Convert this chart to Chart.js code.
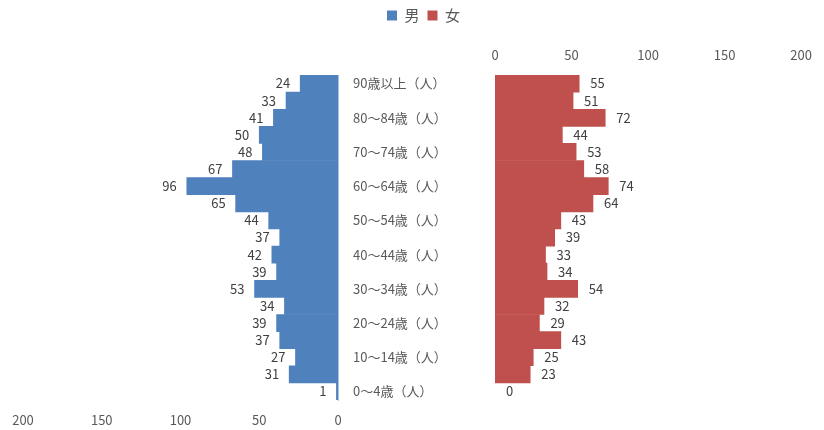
<!DOCTYPE html>
<html>
<head>
<meta charset="utf-8">
<script src="https://cdn.jsdelivr.net/npm/chart.js@4/dist/chart.umd.min.js"></script>
<style>
  html, body { margin: 0; padding: 0; background: #fff; }
  #wrap { position: relative; width: 824px; height: 430px; }
  #maleChart { position: absolute; left: 0; top: 0; }
  #femaleChart { position: absolute; left: 460px; top: 0; }
</style>
</head>
<body>
<div id="wrap">
  <canvas id="maleChart" width="824" height="430"></canvas>
  <canvas id="femaleChart" width="364" height="430"></canvas>
</div>
<script>
const ageGroups = [
  '90歳以上（人）', '85～89歳（人）', '80～84歳（人）', '75～79歳（人）',
  '70～74歳（人）', '65～69歳（人）', '60～64歳（人）', '55～59歳（人）',
  '50～54歳（人）', '45～49歳（人）', '40～44歳（人）', '35～39歳（人）',
  '30～34歳（人）', '25～29歳（人）', '20～24歳（人）', '15～19歳（人）',
  '10～14歳（人）', '5～9歳（人）', '0～4歳（人）'
];
const maleCounts = [24, 33, 41, 50, 48, 67, 96, 65, 44, 37, 42, 39, 53, 34, 39, 37, 27, 31, 1];
const femaleCounts = [55, 51, 72, 44, 53, 58, 74, 64, 43, 39, 33, 34, 54, 32, 29, 43, 25, 23, 0];
const seriesNames = ['男', '女'];
const axisTicks = [0, 50, 100, 150, 200];

const FONT = "'Noto Sans CJK JP', 'Noto Sans', sans-serif";
const BLUE = '#4f81bd';
const RED = '#c0504d';

// value labels next to the end of each bar
const valueLabels = {
  id: 'valueLabels',
  afterDatasetsDraw(chart, args, opts) {
    const ctx = chart.ctx;
    const meta = chart.getDatasetMeta(0);
    const values = chart.data.datasets[0].data;
    ctx.save();
    ctx.font = '13px ' + FONT;
    ctx.fillStyle = '#404040';
    ctx.textBaseline = 'middle';
    ctx.textAlign = opts.side === 'left' ? 'right' : 'left';
    meta.data.forEach((bar, i) => {
      const x = opts.side === 'left' ? bar.x - 10 : bar.x + 11;
      ctx.fillText(String(values[i]), x, bar.y);
    });
    ctx.restore();
  }
};

// leave room under the legend so both plots line up
const legendSpace = {
  id: 'legendSpace',
  beforeInit(chart) {
    const fit = chart.legend.fit;
    chart.legend.fit = function () {
      fit.call(this);
      this.height = 75;
    };
  }
};

// zero-length bars should not show a sliver
const inflate = c => (c.raw === 0 ? 0 : 'auto');

new Chart(document.getElementById('maleChart'), {
  type: 'bar',
  data: {
    labels: ageGroups,
    datasets: [{
      label: seriesNames[0],
      data: maleCounts,
      backgroundColor: BLUE,
      barPercentage: 1,
      categoryPercentage: 1,
      inflateAmount: inflate
    }]
  },
  options: {
    indexAxis: 'y',
    responsive: false,
    animation: false,
    layout: { padding: { left: 23 } },
    scales: {
      x: {
        position: 'bottom',
        reverse: true,
        min: 0,
        max: 200,
        afterBuildTicks: axis => { axis.ticks = axisTicks.map(v => ({ value: v })); },
        afterFit: axis => { axis.height = 30; },
        grid: { display: false, drawTicks: false },
        border: { display: false },
        ticks: { color: '#595959', font: { family: FONT, size: 13 }, padding: 12 }
      },
      y: {
        position: 'right',
        afterFit: axis => { axis.width = 824 - 338; },
        grid: { display: false, drawTicks: false },
        border: { display: true, color: '#a9c0e2', width: 1 },
        ticks: {
          autoSkip: false,
          crossAlign: 'near',
          padding: 15,
          color: '#595959',
          font: { family: FONT, size: 13 },
          callback: function (value, index) {
            return index % 2 === 0 ? this.getLabelForValue(value) : '';
          }
        }
      }
    },
    plugins: {
      legend: {
        position: 'top',
        labels: {
          boxWidth: 10,
          boxHeight: 10,
          padding: 8,
          color: '#595959',
          font: { family: FONT, size: 15 },
          generateLabels: () => [
            { text: seriesNames[0], fillStyle: BLUE, strokeStyle: BLUE, lineWidth: 0, fontColor: '#595959' },
            { text: seriesNames[1], fillStyle: RED, strokeStyle: RED, lineWidth: 0, fontColor: '#595959' }
          ]
        }
      },
      tooltip: { enabled: false },
      valueLabels: { side: 'left' }
    }
  },
  plugins: [valueLabels, legendSpace]
});

new Chart(document.getElementById('femaleChart'), {
  type: 'bar',
  data: {
    labels: ageGroups,
    datasets: [{
      label: seriesNames[1],
      data: femaleCounts,
      backgroundColor: RED,
      barPercentage: 1,
      categoryPercentage: 1,
      inflateAmount: inflate
    }]
  },
  options: {
    indexAxis: 'y',
    responsive: false,
    animation: false,
    layout: { padding: { left: 35, right: 14, bottom: 30 } },
    scales: {
      x: {
        position: 'top',
        min: 0,
        max: 200,
        afterBuildTicks: axis => { axis.ticks = axisTicks.map(v => ({ value: v })); },
        afterFit: axis => { axis.height = 75; },
        grid: { display: false, drawTicks: false },
        border: { display: false },
        ticks: { color: '#595959', font: { family: FONT, size: 13 }, padding: 12 }
      },
      y: { display: false }
    },
    plugins: {
      legend: { display: false },
      tooltip: { enabled: false },
      valueLabels: { side: 'right' }
    }
  },
  plugins: [valueLabels]
});
</script>
</body>
</html>
